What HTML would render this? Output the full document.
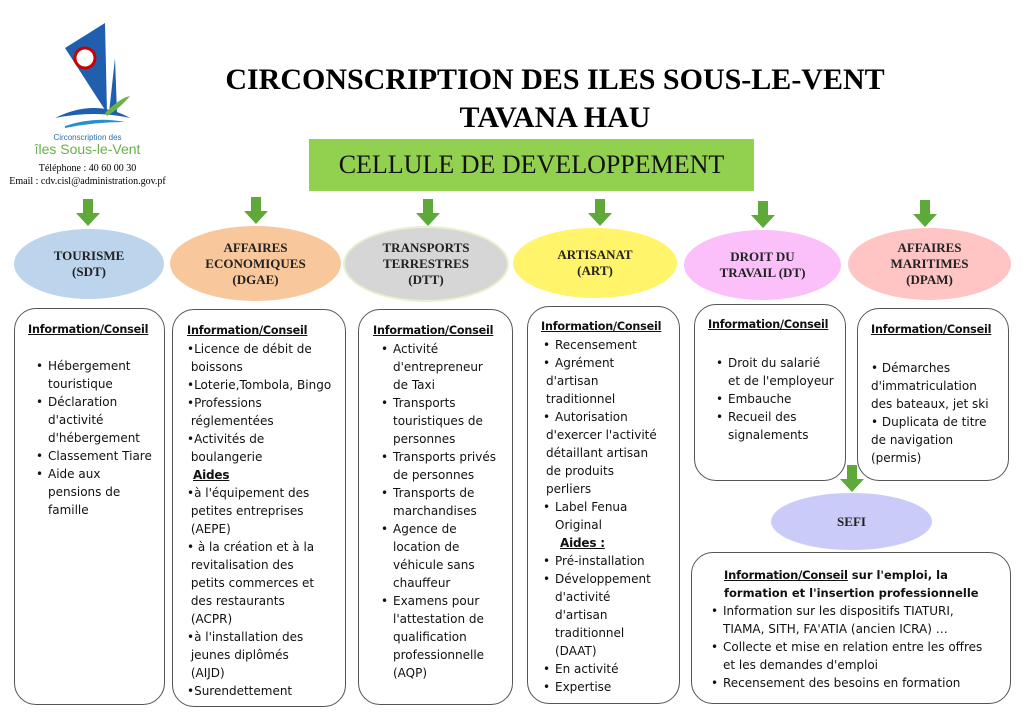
<!DOCTYPE html>
<html><head><meta charset="utf-8"><style>
body{margin:0;width:1024px;height:724px;background:#fff;position:relative;overflow:hidden;font-family:"DejaVu Sans","Liberation Sans",sans-serif;}
.a{position:absolute}
.t{font-family:"Liberation Serif",serif;font-weight:bold;color:#000;text-align:center}
.el{position:absolute;border-radius:50%;display:flex;align-items:center;justify-content:center;text-align:center;font-family:"Liberation Serif",serif;font-weight:bold;font-size:13px;line-height:16px;color:#222}
.bx{position:absolute;border:1px solid #555;border-radius:22px;box-sizing:border-box;font-size:12px;line-height:18px;color:#111;white-space:nowrap}
.h{font-weight:bold;text-decoration:underline;font-size:11.2px;letter-spacing:-0.2px}
ul{margin:0;padding:0;list-style:none}
li{position:relative;padding-left:14px}
li:before{content:"•";position:absolute;left:2px}
.arr{position:absolute;width:24px;height:28px}
</style></head><body>
<svg class="a" style="left:45px;top:18px" width="100" height="120" viewBox="0 0 100 120">
<polygon points="20,30 60,5 62,95" fill="#1f5fad"/>
<polygon points="70,40 72,95 64,95" fill="#1f5fad"/>
<circle cx="40" cy="40" r="10" fill="#fff" stroke="#c00" stroke-width="3"/>
<path d="M10,100 Q50,80 85,100 Q50,92 10,100Z" fill="#1f5fad"/>
<path d="M60,95 Q75,80 85,78 Q75,90 62,98Z" fill="#6ab04c"/>
<path d="M20,108 Q50,98 80,104 Q50,104 20,110Z" fill="#2a8fd0"/>
</svg>
<div class="a" style="left:0;top:133px;width:175px;text-align:center;font-family:'Liberation Sans',sans-serif;font-size:8px;color:#2d6fb3">Circonscription des</div>
<div class="a" style="left:0;top:141px;width:175px;text-align:center;font-family:'Liberation Sans',sans-serif;font-size:14px;color:#6ab04c">îles Sous-le-Vent</div>
<div class="a" style="left:0;top:163px;width:175px;text-align:center;font-family:'Liberation Serif',serif;font-size:10px">Téléphone : 40 60 00 30</div>
<div class="a" style="left:0;top:176px;width:175px;text-align:center;font-family:'Liberation Serif',serif;font-size:10px">Email : cdv.cisl@administration.gov.pf</div>

<div class="a t" style="left:180px;top:63px;width:750px;font-size:30px">CIRCONSCRIPTION DES ILES SOUS-LE-VENT</div>
<div class="a t" style="left:180px;top:101px;width:750px;font-size:30px">TAVANA HAU</div>
<div class="a" style="left:309px;top:139px;width:445px;height:52px;background:#92d050;display:flex;align-items:center;justify-content:center;font-family:'Liberation Serif',serif;font-size:26px;color:#111">CELLULE DE DEVELOPPEMENT</div>

<svg width="0" height="0"><defs><g id="ar"><polygon points="7,0 17,0 17,14 24,14 12,27 0,14 7,14" fill="#5fa83a"/></g></defs></svg>
<svg class="arr" style="left:76px;top:199px"><use href="#ar"/></svg>
<svg class="arr" style="left:244px;top:197px"><use href="#ar"/></svg>
<svg class="arr" style="left:416px;top:199px"><use href="#ar"/></svg>
<svg class="arr" style="left:588px;top:199px"><use href="#ar"/></svg>
<svg class="arr" style="left:751px;top:201px"><use href="#ar"/></svg>
<svg class="arr" style="left:913px;top:200px"><use href="#ar"/></svg>
<svg class="arr" style="left:840px;top:465px"><use href="#ar"/></svg>

<div class="el" style="left:14px;top:229px;width:150px;height:70px;background:#bcd5ec">TOURISME<br>(SDT)</div>
<div class="el" style="left:170px;top:226px;width:171px;height:75px;background:#f8c89c">AFFAIRES<br>ECONOMIQUES<br>(DGAE)</div>
<div class="el" style="left:345px;top:228px;width:162px;height:72px;background:#d6d6d6;box-shadow:0 0 0 2px #e4f2d0">TRANSPORTS<br>TERRESTRES<br>(DTT)</div>
<div class="el" style="left:513px;top:228px;width:164px;height:70px;background:#fff46a">ARTISANAT<br>(ART)</div>
<div class="el" style="left:684px;top:230px;width:157px;height:70px;background:#fbc0fa">DROIT DU<br>TRAVAIL (DT)</div>
<div class="el" style="left:848px;top:228px;width:163px;height:72px;background:#ffc5c5">AFFAIRES<br>MARITIMES<br>(DPAM)</div>
<div class="el" style="left:771px;top:493px;width:161px;height:57px;background:#cbcbfa">SEFI</div>

<div class="bx" style="left:14px;top:308px;width:151px;height:397px;padding:12px 0 0 13px">
<div class="h">Information/Conseil</div><div style="height:18px"></div>
<ul style="padding-left:6px"><li>Hébergement<br>touristique</li><li>Déclaration<br>d'activité<br>d'hébergement</li><li>Classement Tiare</li><li>Aide aux<br>pensions de<br>famille</li></ul></div>

<div class="bx" style="left:172px;top:309px;width:174px;height:398px;padding:12px 0 0 14px">
<div class="h">Information/Conseil</div>
<div>•Licence de débit de<br>&nbsp;boissons<br>•Loterie,Tombola, Bingo<br>•Professions<br>&nbsp;réglementées<br>•Activités de<br>&nbsp;boulangerie</div>
<div class="h" style="padding-left:6px;font-size:12px">Aides</div>
<div>•à l'équipement des<br>&nbsp;petites entreprises<br>&nbsp;(AEPE)<br>• à la création et à la<br>&nbsp;revitalisation des<br>&nbsp;petits commerces et<br>&nbsp;des restaurants<br>&nbsp;(ACPR)<br>•à l'installation des<br>&nbsp;jeunes diplômés<br>&nbsp;(AIJD)<br>•Surendettement</div></div>

<div class="bx" style="left:358px;top:309px;width:155px;height:396px;padding:12px 0 0 14px">
<div class="h">Information/Conseil</div>
<ul style="padding-left:6px"><li>Activité<br>d'entrepreneur<br>de Taxi</li><li>Transports<br>touristiques de<br>personnes</li><li>Transports privés<br>de personnes</li><li>Transports de<br>marchandises</li><li>Agence de<br>location de<br>véhicule sans<br>chauffeur</li><li>Examens pour<br>l'attestation de<br>qualification<br>professionnelle<br>(AQP)</li></ul></div>

<div class="bx" style="left:527px;top:306px;width:153px;height:398px;padding:11px 0 0 13px">
<div class="h">Information/Conseil</div>
<ul><li>Recensement</li><li>Agrément <br><span style="margin-left:-9px">d'artisan</span><br><span style="margin-left:-9px">traditionnel</span></li><li>Autorisation<br><span style="margin-left:-9px">d'exercer l'activité</span><br><span style="margin-left:-9px">détaillant artisan</span><br><span style="margin-left:-9px">de produits</span><br><span style="margin-left:-9px">perliers</span></li><li>Label Fenua<br>Original</li></ul>
<div class="h" style="padding-left:19px;font-size:12px">Aides :</div>
<ul><li>Pré-installation</li><li>Développement<br>d'activité<br>d'artisan<br>traditionnel<br>(DAAT)</li><li>En activité</li><li>Expertise</li></ul></div>

<div class="bx" style="left:694px;top:304px;width:152px;height:177px;padding:11px 0 0 13px">
<div class="h">Information/Conseil</div><div style="height:20px"></div>
<ul style="padding-left:6px"><li>Droit du salarié<br>et de l'employeur</li><li>Embauche</li><li>Recueil des<br>signalements</li></ul></div>

<div class="bx" style="left:857px;top:308px;width:152px;height:173px;padding:12px 0 0 13px">
<div class="h">Information/Conseil</div><div style="height:20px"></div>
<div>• Démarches<br>d'immatriculation<br>des bateaux, jet ski<br>• Duplicata de titre<br>de navigation<br>(permis)</div></div>

<div class="bx" style="left:691px;top:552px;width:320px;height:152px;padding:13px 0 0 17px">
<div style="padding-left:15px;font-weight:bold;font-size:11.5px"><span class="h" style="font-size:11.5px">Information/Conseil</span> sur l'emploi, la<br>formation et l'insertion professionnelle</div>
<ul><li>Information sur les dispositifs TIATURI,<br>TIAMA, SITH, FA'ATIA (ancien ICRA) …</li><li>Collecte et mise en relation entre les offres<br>et les demandes d'emploi</li><li>Recensement des besoins en formation</li></ul></div>
</body></html>
